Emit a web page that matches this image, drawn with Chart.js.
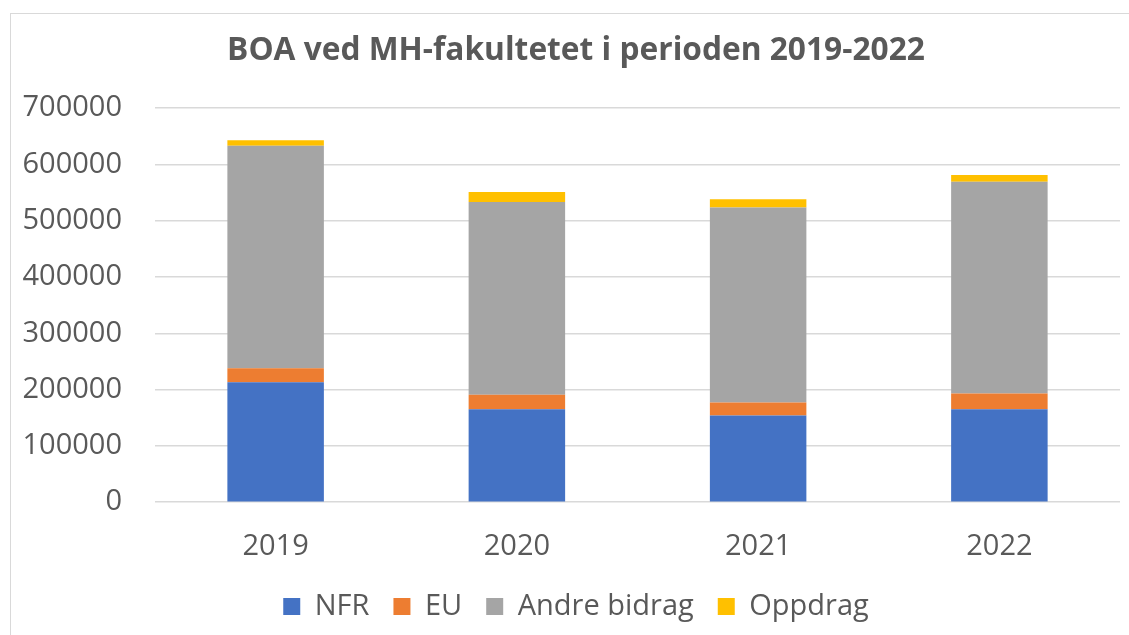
<!DOCTYPE html>
<html>
<head>
<meta charset="utf-8">
<script src="https://cdn.jsdelivr.net/npm/chart.js@4/dist/chart.umd.min.js"></script>
<style>
  html, body { margin: 0; padding: 0; background: #fff; }
  #wrap { position: relative; width: 1129px; height: 635px; overflow: hidden; }
  #frame { position: absolute; left: 10px; top: 13px; width: 1140px; height: 650px;
           border: 1px solid #d9d9d9; pointer-events: none; }
  canvas { position: absolute; left: 0; top: 0; }
</style>
</head>
<body>
<div id="wrap">
  <div id="frame"></div>
  <canvas id="boa-chart" width="1129" height="635"></canvas>
</div>
<script>
'use strict';

var years = ['2019', '2020', '2021', '2022'];
var nfr = [213000, 165000, 154000, 165000];
var eu = [25000, 26000, 23000, 28000];
var andreBidrag = [395000, 342000, 346500, 376000];
var oppdrag = [10000, 18000, 14500, 12000];
var yTicks = [0, 100000, 200000, 300000, 400000, 500000, 600000, 700000];

var textColor = '#595959';
var fontFamily = '"Open Sans", "Noto Sans", sans-serif';

var makeSet = function(label, data, color) {
    return {
        label: label,
        data: data,
        backgroundColor: color,
        borderWidth: 0,
        barPercentage: 0.4,
        categoryPercentage: 1
    };
};

// the left padding only centres title and legend; let the y labels use it
var yLabelRoom = {
    id: 'yLabelRoom',
    afterLayout: function(chart) { chart.scales.y.left = 0; }
};

var ctx = document.getElementById('boa-chart').getContext('2d');
var boaChart = new Chart(ctx, {
    type: 'bar',
    data: {
        labels: years,
        datasets: [
            makeSet('NFR', nfr, '#4472C4'),
            makeSet('EU', eu, '#ED7D31'),
            makeSet('Andre bidrag', andreBidrag, '#A5A5A5'),
            makeSet('Oppdrag', oppdrag, '#FFC000')
        ]
    },
    plugins: [yLabelRoom],
    options: {
        responsive: false,
        animation: false,
        layout: { padding: { left: 32, right: 9, top: 0, bottom: 4 } },
        plugins: {
            title: {
                display: true,
                text: 'BOA ved MH-fakultetet i perioden 2019-2022',
                color: textColor,
                font: { family: fontFamily, size: 31.7, weight: 'bold' },
                padding: { top: 32, bottom: 38 }
            },
            legend: {
                position: 'bottom',
                labels: {
                    color: textColor,
                    font: { family: fontFamily, size: 29 },
                    boxWidth: 17,
                    boxHeight: 17,
                    padding: 24
                }
            },
            tooltip: { enabled: false }
        },
        scales: {
            x: {
                stacked: true,
                grid: { display: false },
                border: { display: false },
                afterFit: function(scale) { scale.height -= 15; },
                ticks: { color: textColor, font: { family: fontFamily, size: 29 }, padding: 19 }
            },
            y: {
                stacked: true,
                min: 0,
                max: 700000,
                afterBuildTicks: function(scale) {
                    scale.ticks = yTicks.map(function(v) { return { value: v }; });
                },
                afterFit: function(scale) { scale.width = 123; },
                grid: { color: '#d9d9d9', lineWidth: 1.5, drawTicks: false },
                border: { display: false },
                ticks: {
                    color: textColor,
                    font: { family: fontFamily, size: 29 },
                    padding: 33,
                    callback: function(v) { return String(v); }
                }
            }
        }
    }
});
</script>
</body>
</html>
